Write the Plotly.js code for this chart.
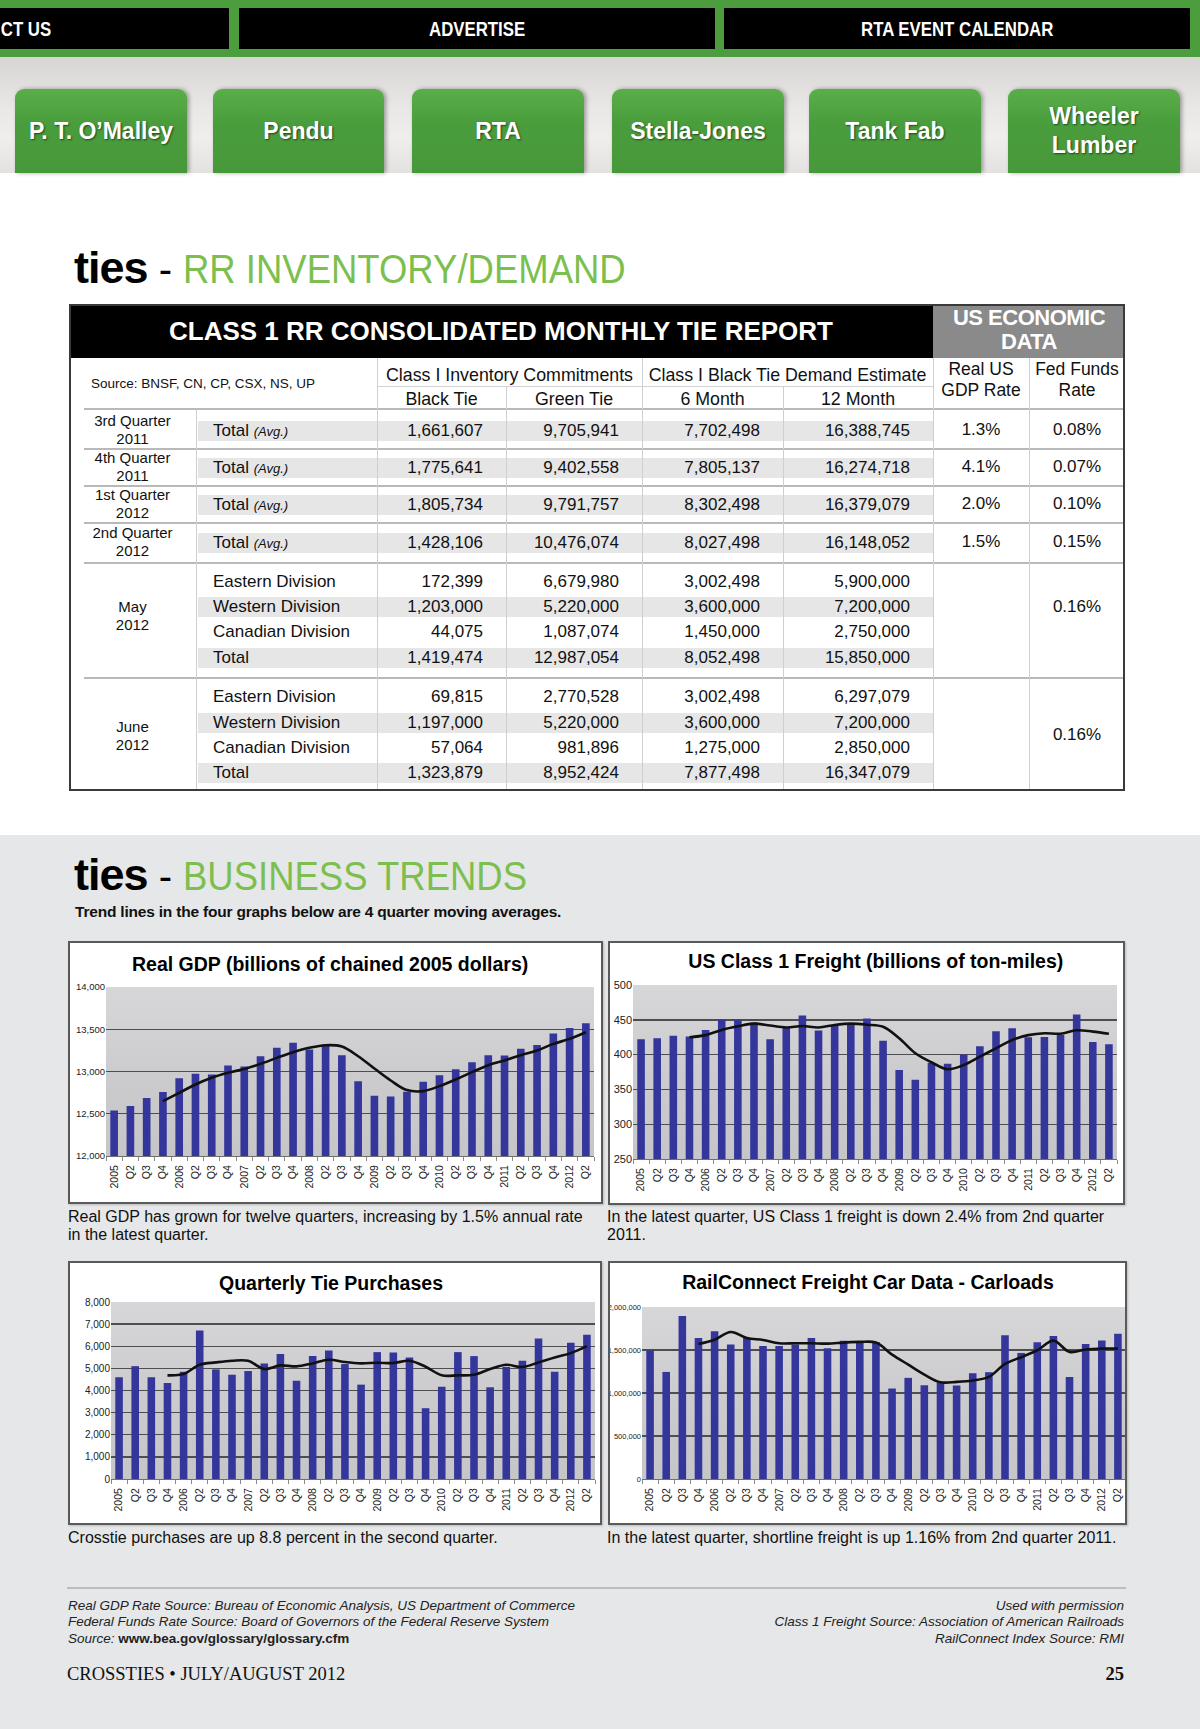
<!DOCTYPE html>
<html><head><meta charset="utf-8">
<script src="https://cdn.plot.ly/plotly-3.0.1.min.js"></script>
<style>
body{margin:0;background:#fff;}
#page{position:relative;width:1200px;height:1729px;overflow:hidden;background:#fff;font-family:"Liberation Sans",Arial,sans-serif;color:#111;}
.a{position:absolute;white-space:nowrap;}
.tab{position:absolute;top:8px;height:41px;background:#000;color:#fff;font-weight:bold;font-size:21px;line-height:41px;text-align:center;overflow:hidden;}
.tab span{display:inline-block;transform:scaleX(.8);transform-origin:center center;}
.btn{position:absolute;top:89px;height:84px;border-radius:9px 9px 0 0;background:linear-gradient(#5aae4a,#4a9d3c 40%,#47983a);box-shadow:2px 0 4px rgba(0,0,0,.35);color:#fff;font-weight:bold;font-size:23px;display:flex;align-items:center;justify-content:center;text-align:center;line-height:29px;text-shadow:1px 1px 2px rgba(0,0,0,.55);}
.head{position:absolute;left:74px;white-space:nowrap;line-height:50px;}
.head .t{font-weight:bold;font-size:45px;letter-spacing:-1px;color:#000;}
.head .d{font-size:40px;color:#000;}
.head .g{font-size:41px;color:#7dbf4f;display:inline-block;transform:scaleX(.89);transform-origin:left center;}
.box{position:absolute;border:2px solid #5a5a5a;box-sizing:border-box;pointer-events:none;box-shadow:1px 1px 2px rgba(0,0,0,.2);}
.wbg{position:absolute;background:#fff;}
.pbg{position:absolute;background:linear-gradient(#d7d7da,#cbcbce 55%,#c6c6c9);}
.chart{position:absolute;}
.cap{position:absolute;font-size:16px;line-height:18px;white-space:nowrap;color:#111;}
.foot{position:absolute;font-size:13.5px;line-height:16.3px;font-style:italic;white-space:nowrap;color:#222;}
</style></head><body>
<div id="page">
  <!-- top nav -->
  <div class="a" style="left:0;top:0;width:1200px;height:57px;background:#4c9d3d;"></div>
  <div class="tab" style="left:0;width:229px;text-align:left;"><span style="transform-origin:left center;padding-left:1px;">CT US</span></div>
  <div class="tab" style="left:239px;width:476px;"><span>ADVERTISE</span></div>
  <div class="tab" style="left:724px;width:466px;"><span>RTA EVENT CALENDAR</span></div>
  <div class="a" style="left:0;top:57px;width:1200px;height:116px;background:linear-gradient(#d6d5d3,#e9e8e6 45%,#efeeec 70%,#e3e2e0);"></div>
  <div class="btn" style="left:15px;width:172px;">P. T. O’Malley</div>
  <div class="btn" style="left:213px;width:171px;">Pendu</div>
  <div class="btn" style="left:412px;width:172px;">RTA</div>
  <div class="btn" style="left:612px;width:172px;">Stella-Jones</div>
  <div class="btn" style="left:809px;width:172px;">Tank Fab</div>
  <div class="btn" style="left:1008px;width:172px;">Wheeler<br>Lumber</div>

  <!-- inventory heading -->
  <div class="head" style="top:243px;"><span class="t">ties</span><span class="d"> - </span><span class="g">RR INVENTORY/DEMAND</span></div>

  <!-- gray lower section -->
  <div class="a" style="left:0;top:835px;width:1200px;height:894px;background:#e6e7e8;"></div>
  <div class="head" style="top:850px;"><span class="t">ties</span><span class="d"> - </span><span class="g">BUSINESS TRENDS</span></div>
  <div class="a" style="left:75px;top:902px;font-size:15.5px;font-weight:bold;line-height:19px;letter-spacing:-0.2px;">Trend lines in the four graphs below are 4 quarter moving averages.</div>

  <div class="cap" style="left:68px;top:1208px;">Real GDP has grown for twelve quarters, increasing by 1.5% annual rate<br>in the latest quarter.</div>
  <div class="cap" style="left:607px;top:1208px;">In the latest quarter, US Class 1 freight is down 2.4% from 2nd quarter<br>2011.</div>
  <div class="cap" style="left:68px;top:1529px;">Crosstie purchases are up 8.8 percent in the second quarter.</div>
  <div class="cap" style="left:607px;top:1529px;">In the latest quarter, shortline freight is up 1.16% from 2nd quarter 2011.</div>

  <div class="a" style="left:67px;top:1587px;width:1059px;height:2px;background:#bdbdbd;"></div>
  <div class="foot" style="left:68px;top:1598px;">Real GDP Rate Source: Bureau of Economic Analysis, US Department of Commerce<br>Federal Funds Rate Source: Board of Governors of the Federal Reserve System<br>Source: <b style="font-style:normal;">www.bea.gov/glossary/glossary.cfm</b></div>
  <div class="foot" style="right:76px;top:1598px;text-align:right;">Used with permission<br>Class 1 Freight Source: Association of American Railroads<br>RailConnect Index Source: RMI</div>
  <div class="a" style="left:67px;top:1662px;font-family:'Liberation Serif',serif;font-size:18.5px;line-height:24px;color:#111;">CROSSTIES • JULY/AUGUST 2012</div>
  <div class="a" style="right:76px;top:1662px;font-family:'Liberation Serif',serif;font-size:18.5px;font-weight:bold;line-height:24px;color:#111;">25</div>
</div>
<script>
// ---------- table data ----------
const qPeriodName = ['3rd Quarter','4th Quarter','1st Quarter','2nd Quarter'];
const qPeriodYear = ['2011','2011','2012','2012'];
const qBlackTie = [1661607,1775641,1805734,1428106];
const qGreenTie = [9705941,9402558,9791757,10476074];
const q6Month = [7702498,7805137,8302498,8027498];
const q12Month = [16388745,16274718,16379079,16148052];
const qGdpRate = ['1.3%','4.1%','2.0%','1.5%'];
const qFedFunds = ['0.08%','0.07%','0.10%','0.15%'];
const divisions = ['Eastern Division','Western Division','Canadian Division','Total'];
const monthNames = ['May','June'];
const monthYear = ['2012','2012'];
const mBlackTie = [[172399,1203000,44075,1419474],[69815,1197000,57064,1323879]];
const mGreenTie = [[6679980,5220000,1087074,12987054],[2770528,5220000,981896,8952424]];
const m6Month = [[3002498,3600000,1450000,8052498],[3002498,3600000,1275000,7877498]];
const m12Month = [[5900000,7200000,2750000,15850000],[6297079,7200000,2850000,16347079]];
const mFedFunds = ['0.16%','0.16%'];

// ---------- chart data ----------
const quarters = ['2005Q1','2005Q2','2005Q3','2005Q4','2006Q1','2006Q2','2006Q3','2006Q4','2007Q1','2007Q2','2007Q3','2007Q4','2008Q1','2008Q2','2008Q3','2008Q4','2009Q1','2009Q2','2009Q3','2009Q4','2010Q1','2010Q2','2010Q3','2010Q4','2011Q1','2011Q2','2011Q3','2011Q4','2012Q1','2012Q2'];
const tickLabels = ['2005','Q2','Q3','Q4','2006','Q2','Q3','Q4','2007','Q2','Q3','Q4','2008','Q2','Q3','Q4','2009','Q2','Q3','Q4','2010','Q2','Q3','Q4','2011','Q2','Q3','Q4','2012','Q2'];
const gdpValues = [12539,12591,12685,12756,12921,12972,12965,13071,13060,13181,13280,13339,13260,13319,13193,12886,12713,12705,12760,12878,12957,13028,13110,13193,13188,13270,13315,13449,13516,13571];
const gdpTrend = [null,null,null,12650,12748,12846,12925,12984,13031,13090,13161,13228,13280,13311,13295,13181,13035,12894,12780,12768,12827,12906,12992,13075,13130,13193,13248,13327,13386,13465];
const freightValues = [422,423.5,427,426,435.5,450,450,446,422,439,456,434.5,441,443.6,452,420,378,364,388,387,400,412,433.5,438,425,425.4,428,457.5,418,415];
const freightTrend = [null,null,null,425,428,435.5,440.7,444.5,441.7,439,441,439,442.6,444.5,443,440,423.5,402,389,379,385,397,409,421,428,430.7,430,435,433,430];
const tieValues = [4600,5100,4600,4340,4850,6710,4955,4713,4880,5225,5645,4445,5555,5810,5195,4265,5735,5720,5495,3200,4175,5735,5555,4145,5060,5345,6350,4850,6155,6515];
const tieTrend = [null,null,null,4685,4745,5165,5270,5345,5345,4970,5135,5090,5225,5390,5285,5225,5255,5240,5345,5075,4685,4685,4715,4970,5165,5060,5270,5495,5690,6005];
const carloadValues = [1493000,1245000,1895000,1640000,1717000,1563000,1640000,1547000,1547000,1563000,1640000,1520000,1609000,1601000,1594000,1052000,1176000,1091000,1125000,1087000,1230000,1242000,1671000,1466000,1590000,1663000,1187000,1570000,1610000,1690000];
const carloadTrend = [null,null,null,1570000,1620000,1710000,1640000,1617000,1578000,1578000,1578000,1574000,1586000,1594000,1586000,1447000,1330000,1214000,1125000,1129000,1145000,1187000,1338000,1416000,1497000,1609000,1478000,1505000,1516000,1516000];

// ---------- table rendering ----------
const page = document.getElementById('page');
const fmt = n => n.toLocaleString('en-US');
function box(st, html, cls){
  const d = document.createElement('div');
  d.className = cls || 'a';
  d.style.position = 'absolute';
  Object.assign(d.style, st);
  if (html !== undefined) d.innerHTML = html;
  page.appendChild(d);
  return d;
}
const colX = [69,196,377,506,642,783,933,1029,1125];
const T = {top:304, head:358, sub:409, bottom:791};
const LINE = '#b9b9b9', VLINE = '#cfcfcf', BAND = '#e6e6e6';

box({left:colX[0]+'px',top:T.top+'px',width:(colX[6]-colX[0])+'px',height:(T.head-T.top)+'px',background:'#000'});
box({left:colX[6]+'px',top:T.top+'px',width:(colX[8]-colX[6])+'px',height:(T.head-T.top)+'px',background:'#8a8a8a'});
box({left:colX[0]+'px',top:T.top+'px',width:(colX[6]-colX[0])+'px',height:(T.head-T.top)+'px',lineHeight:(T.head-T.top)+'px',textAlign:'center',color:'#fff',fontWeight:'bold',fontSize:'26px'},'CLASS 1 RR CONSOLIDATED MONTHLY TIE REPORT');
box({left:colX[6]+'px',top:(T.top+2)+'px',width:(colX[8]-colX[6])+'px',lineHeight:'24px',textAlign:'center',color:'#fff',fontWeight:'bold',fontSize:'22px',letterSpacing:'-0.5px'},'US ECONOMIC<br>DATA');

function band(y){ box({left:(colX[1]+2)+'px',top:(y-10)+'px',width:(colX[6]-colX[1]-2)+'px',height:'20px',background:BAND}); }
function hline(y,x0,x1,c,h){ box({left:x0+'px',top:y+'px',width:(x1-x0)+'px',height:(h||2)+'px',background:c||LINE}); }

const qCenters = [431,468,505,543];
const qLines = [449,486,523,563];
const mCenters = [[582,607,632,658],[697,723,748,773]];
const mLabelCenter = [616,736];
const mFedCenter = [607,735];

qCenters.forEach(y=>band(y));
mCenters.forEach(g=>{band(g[1]);band(g[3]);});

hline(T.sub-1,84,colX[8]);
qLines.forEach(y=>hline(y-1,84,colX[8]));
hline(678-1,84,colX[8]);
hline(386,colX[2],colX[6],'#d2d2d2',1);

[[1,T.sub],[2,T.head],[3,387],[4,T.head],[5,387],[6,T.head],[7,T.head]].forEach(([i,y0])=>{
  box({left:colX[i]+'px',top:y0+'px',width:'1px',height:(T.bottom-y0)+'px',background:VLINE});
});

function txt(x,w,y,html,align,extra){
  const st = Object.assign({left:x+'px',top:(y-11)+'px',width:w+'px',lineHeight:'22px',fontSize:'17px',textAlign:align||'center'}, extra||{});
  return box(st, html);
}
txt(91,280,384,'Source: BNSF, CN, CP, CSX, NS, UP','left',{fontSize:'13.5px'});
txt(colX[2],colX[4]-colX[2],375,'Class I Inventory Commitments','center',{fontSize:'17.8px'});
txt(colX[4],colX[6]-colX[4],375,'Class I Black Tie Demand Estimate','center',{fontSize:'17.8px'});
const subHeads = ['Black Tie','Green Tie','6 Month','12 Month'];
subHeads.forEach((s,i)=>txt(colX[2+i],colX[3+i]-colX[2+i],399,s,'center',{fontSize:'17.8px'}));
box({left:colX[6]+'px',top:'359px',width:(colX[7]-colX[6])+'px',lineHeight:'21px',fontSize:'17.5px',textAlign:'center'},'Real US<br>GDP Rate');
box({left:colX[7]+'px',top:'359px',width:(colX[8]-colX[7])+'px',lineHeight:'21px',fontSize:'17.5px',textAlign:'center'},'Fed Funds<br>Rate');

function numRow(y, vals){
  vals.forEach((v,i)=>txt(colX[2+i],colX[3+i]-colX[2+i]-23,y,fmt(v),'right'));
}
qCenters.forEach((y,k)=>{
  box({left:colX[0]+'px',top:(y-19)+'px',width:(colX[1]-colX[0])+'px',lineHeight:'18px',fontSize:'15px',textAlign:'center'},qPeriodName[k]+'<br>'+qPeriodYear[k]);
  txt(colX[1]+17,160,y,'Total <i style="font-size:13px">(Avg.)</i>','left');
  numRow(y,[qBlackTie[k],qGreenTie[k],q6Month[k],q12Month[k]]);
  txt(colX[6],colX[7]-colX[6],y-1,qGdpRate[k]);
  txt(colX[7],colX[8]-colX[7],y-1,qFedFunds[k]);
});
mCenters.forEach((g,m)=>{
  box({left:colX[0]+'px',top:(mLabelCenter[m]-18)+'px',width:(colX[1]-colX[0])+'px',lineHeight:'18px',fontSize:'15px',textAlign:'center'},monthNames[m]+'<br>'+monthYear[m]);
  g.forEach((y,r)=>{
    txt(colX[1]+17,165,y,divisions[r],'left');
    numRow(y,[mBlackTie[m][r],mGreenTie[m][r],m6Month[m][r],m12Month[m][r]]);
  });
  txt(colX[7],colX[8]-colX[7],mFedCenter[m],mFedFunds[m]);
});
box({left:colX[0]+'px',top:T.top+'px',width:(colX[8]-colX[0])+'px',height:(T.bottom-T.top)+'px',border:'2px solid #3a3a3a',boxSizing:'border-box'});

// ---------- charts ----------
function makeChart(id, values, trend, o){
  const px = v => v + 'px';
  box({left:px(o.x),top:px(o.y),width:px(o.w),height:px(o.h)},undefined,'wbg');
  box({left:px(o.x+o.l),top:px(o.y+o.t),width:px(o.w-o.l-o.r),height:px(o.h-o.t-o.b)},undefined,'pbg');
  const d = box({left:px(o.x),top:px(o.y),width:px(o.w),height:px(o.h)},undefined,'chart');
  d.id = id;
  box({left:px(o.x),top:px(o.y),width:px(o.w),height:px(o.h)},undefined,'box');
  const traces = [
    {type:'bar', x:quarters, y:values, marker:{color:'#34369b', line:{width:0}}, hoverinfo:'skip'},
    {type:'scatter', mode:'lines', x:quarters, y:trend, line:{color:'#111', width:2.6, shape:'spline', smoothing:1}, connectgaps:false, hoverinfo:'skip'}
  ];
  const layout = {
    width:o.w, height:o.h,
    margin:{l:o.l, r:o.r, t:o.t, b:o.b, pad:0},
    paper_bgcolor:'rgba(0,0,0,0)', plot_bgcolor:'rgba(0,0,0,0)',
    showlegend:false, bargap:0.53,
    font:{family:'Liberation Sans, Arial, sans-serif', color:'#222'},
    title:{text:'<b>'+o.title+'</b>', font:{size:19.5, color:'#000', family:'Liberation Sans, Arial, sans-serif'},
      xref:'container', x:o.tx, xanchor:'center', yref:'container', y:1-o.ty/o.h, yanchor:'middle'},
    xaxis:{type:'category', tickmode:'array', tickvals:quarters, ticktext:tickLabels, tickangle:-90,
      tickfont:{size:10.5, color:'#222'}, showgrid:false, ticks:'outside', tickson:'boundaries', ticklen:4, tickcolor:'#8a8a8a',
      ticklabelstandoff:4, showline:true, linecolor:'#707070', linewidth:1, automargin:false, fixedrange:true},
    yaxis:{range:o.range, dtick:o.dtick, tick0:o.range[0], tickformat:',d', showgrid:true, gridcolor:'#4e4e4e', gridwidth:1.4,
      zeroline:false, showline:false, ticks:'', tickfont:{size:o.yfs, color:'#222'}, automargin:false, fixedrange:true}
  };
  Plotly.newPlot(id, traces, layout, {staticPlot:true, displayModeBar:false});
}
makeChart('c1', gdpValues, gdpTrend, {x:68,y:941,w:535,h:263,l:38,r:9,t:46,b:48,range:[12000,14000],dtick:500,yfs:9.5,title:'Real GDP (billions of chained 2005 dollars)',tx:0.49,ty:23});
makeChart('c2', freightValues, freightTrend, {x:608,y:941,w:517,h:264,l:25,r:8,t:44,b:46,range:[250,500],dtick:50,yfs:11,title:'US Class 1 Freight (billions of ton-miles)',tx:0.518,ty:20});
makeChart('c3', tieValues, tieTrend, {x:68,y:1261,w:534,h:264,l:43,r:7,t:41,b:46,range:[0,8000],dtick:1000,yfs:10,title:'Quarterly Tie Purchases',tx:0.4925,ty:22});
makeChart('c4', carloadValues, carloadTrend, {x:608,y:1261,w:519,h:264,l:34,r:1,t:46,b:46,range:[0,2000000],dtick:500000,yfs:7.5,title:'RailConnect Freight Car Data - Carloads',tx:0.501,ty:21});
</script>
</body></html>
